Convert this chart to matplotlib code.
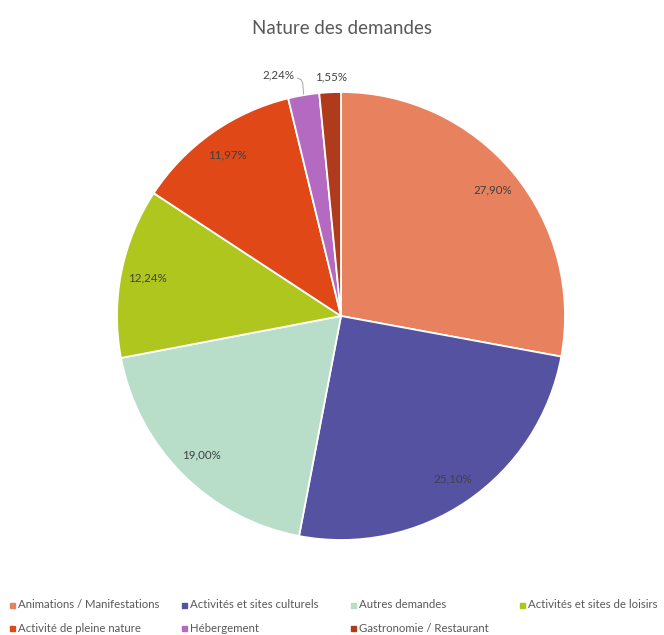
import matplotlib
matplotlib.use("Agg")
import matplotlib.pyplot as plt
import numpy as np
from matplotlib.patches import Rectangle

plt.rcParams["font.family"] = ["Lato", "DejaVu Sans"]

TITLE = "Nature des demandes"
categories = [
    "Animations / Manifestations",
    "Activités et sites culturels",
    "Autres demandes",
    "Activités et sites de loisirs",
    "Activité de pleine nature",
    "Hébergement",
    "Gastronomie / Restaurant",
]
shares = [27.90, 25.10, 19.00, 12.24, 11.97, 2.24, 1.55]
colors = ["#E8815E", "#5552A2", "#B8DDC9", "#AEC61E", "#E04818", "#B56AC2", "#B03A1C"]
inside = [True, True, True, True, True, False, False]

fig = plt.figure(figsize=(6.64, 6.35), dpi=100)
cx, cy, r = 341, 316, 224
ax = fig.add_axes([(cx - r) / 664, 1 - (cy + r) / 635, 2 * r / 664, 2 * r / 635])
wedges, _ = ax.pie(shares, colors=colors, startangle=90, counterclock=False,
                   wedgeprops=dict(edgecolor="white", linewidth=1.3))
ax.set_xlim(-1, 1)
ax.set_ylim(-1, 1)
ax.set_aspect("equal")
ax.axis("off")

fmt = lambda v: f"{v:.2f}%".replace(".", ",")
lab = dict(fontsize=8.3, color="#404040")
for w, v, ins in zip(wedges, shares, inside):
    mid = np.deg2rad((w.theta1 + w.theta2) / 2)
    if ins:
        ax.text(0.88 * np.cos(mid), 0.88 * np.sin(mid), fmt(v), ha="center", va="center", **lab)

# small slices: labels outside the pie
w = wedges[5]
mid = np.deg2rad((w.theta1 + w.theta2) / 2)
x0, y0 = np.cos(mid), np.sin(mid)
ax.plot([x0, x0 - 0.004, x0 - 0.012, x0 - 0.026], [y0 + 0.005, y0 + 0.055, y0 + 0.07, y0 + 0.075],
        color="#A6A6A6", lw=0.7, clip_on=False)
ax.text(x0 - 0.04, y0 + 0.09, fmt(shares[5]), ha="right", va="center", **lab)
w = wedges[6]
mid = np.deg2rad((w.theta1 + w.theta2) / 2)
ax.text(np.cos(mid) + 0.005, np.sin(mid) + 0.07, fmt(shares[6]), ha="center", va="center", **lab)

fig.text(342 / 664, 1 - 28 / 635, TITLE, ha="center", va="center", fontsize=13.5, color="#595959")

# legend, laid out like the Excel one
col_x = [10, 182, 351, 520]
row_y = [605, 628]
for i, (name, c) in enumerate(zip(categories, colors)):
    row, col = divmod(i, 4)
    px, py = col_x[col], row_y[row]
    fig.patches.append(Rectangle((px / 664, 1 - (py + 2.5) / 635), 5 / 664, 5 / 635,
                                 transform=fig.transFigure, color=c))
    fig.text((px + 8) / 664, 1 - py / 635, name, ha="left", va="center", fontsize=8.2, color="#595959")

fig.savefig("out.png", dpi=100)
